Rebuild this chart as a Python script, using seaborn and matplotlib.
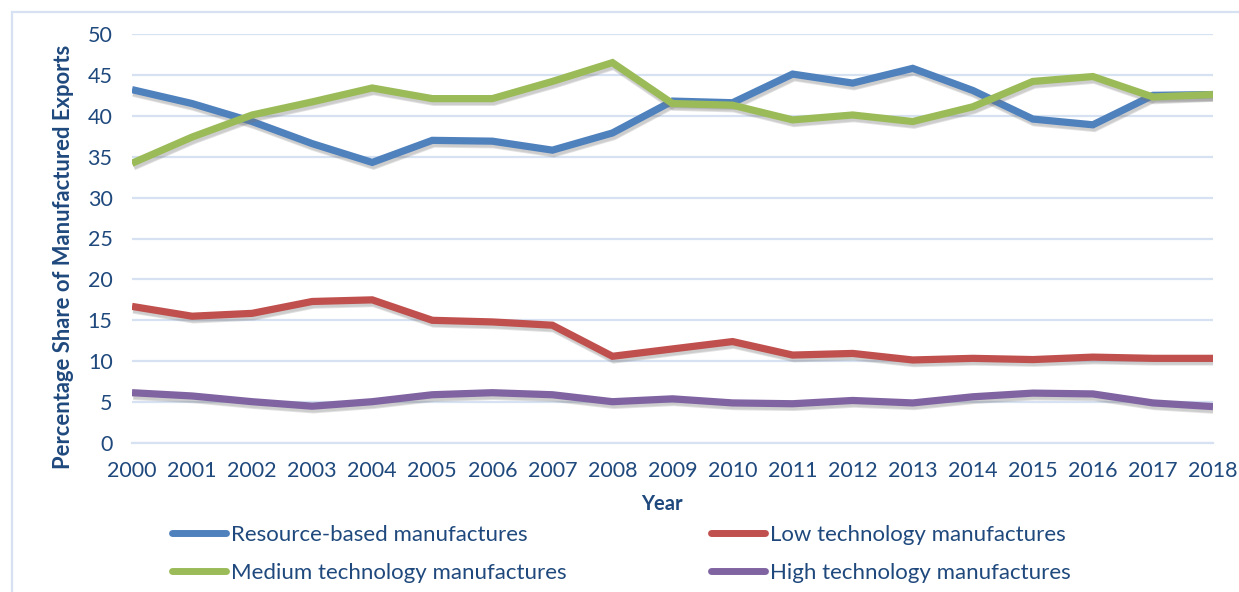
import matplotlib
matplotlib.use("Agg")
import matplotlib.pyplot as plt
import matplotlib.patheffects as pe
from matplotlib.lines import Line2D
from matplotlib.patches import Rectangle
import seaborn as sns
import pandas as pd

years = list(range(2000, 2019))
resource_based = [43.2, 41.5, 39.3, 36.6, 34.3, 37.0, 36.9, 35.8, 37.9, 41.8,
                  41.6, 45.1, 44.0, 45.8, 43.1, 39.6, 38.9, 42.5, 42.6]
low_tech = [16.7, 15.5, 15.85, 17.3, 17.5, 15.0, 14.8, 14.4, 10.6, 11.5,
            12.4, 10.75, 10.95, 10.15, 10.35, 10.2, 10.5, 10.35, 10.35]
medium_tech = [34.2, 37.4, 40.1, 41.7, 43.4, 42.1, 42.1, 44.2, 46.5, 41.5,
               41.3, 39.5, 40.1, 39.3, 41.1, 44.2, 44.8, 42.3, 42.6]
high_tech = [6.15, 5.75, 5.05, 4.5, 5.05, 5.9, 6.15, 5.9, 5.05, 5.4,
             4.9, 4.8, 5.2, 4.9, 5.65, 6.1, 6.0, 4.9, 4.45]

series_names = ["Resource-based manufactures", "Low technology manufactures",
                "Medium technology manufactures", "High technology manufactures"]
series_values = [resource_based, low_tech, medium_tech, high_tech]
series_colors = ["#4F81BD", "#C0504D", "#9BBB59", "#8064A2"]

df = pd.concat(
    [pd.DataFrame({"Year": years, "Share": vals, "Category": name})
     for name, vals in zip(series_names, series_values)],
    ignore_index=True,
)

sns.set_theme(style="white")
plt.rcParams["font.family"] = ["Lato", "DejaVu Sans"]

text_color = "#1F497D"
grid_color = "#D6E1F1"

W, H = 1239, 592
fig = plt.figure(figsize=(W / 100, H / 100), dpi=100)
ax = fig.add_axes([132 / W, 1 - 443 / H, (1213 - 132) / W, (443 - 34) / H])

palette = dict(zip(series_names, series_colors))
sns.lineplot(data=df, x="Year", y="Share", hue="Category", palette=palette,
             linewidth=5.2, ax=ax, legend=False, zorder=3)

# soft drop shadow under each series
shadow = [pe.SimpleLineShadow(offset=(1.0, -2.0), shadow_color="#777777", alpha=0.22,
                              linewidth=6.5),
          pe.SimpleLineShadow(offset=(1.0, -2.0), shadow_color="#777777", alpha=0.18),
          pe.Normal()]
for line in ax.get_lines():
    line.set_path_effects(shadow)
    line.set_solid_capstyle("butt")
    line.set_solid_joinstyle("miter")

ax.set_xlim(2000, 2018)
ax.set_ylim(0, 50)
ax.set_xticks(years)
ax.set_xticklabels([str(y) for y in years])
ax.set_yticks(range(0, 51, 5))

ax.grid(axis="y", color=grid_color, linewidth=1.6)
ax.grid(axis="x", visible=False)
ax.set_axisbelow(True)
for side in ["top", "right", "left"]:
    ax.spines[side].set_visible(False)
ax.spines["bottom"].set_color(grid_color)
ax.spines["bottom"].set_linewidth(1.6)

ax.tick_params(axis="x", which="major", direction="out", length=7, width=1.6,
               color=grid_color, labelsize=15.5, labelcolor=text_color, pad=6)
ax.tick_params(axis="y", which="major", length=0, labelsize=15.5,
               labelcolor=text_color, pad=14)

ax.set_xlabel("")
ax.set_ylabel("")
fig.text(662 / W, 1 - 504 / H, "Year", ha="center", va="center",
         fontsize=14.5, fontweight="bold", color=text_color)
fig.text(63 / W, 1 - 257 / H, "Percentage Share of Manufactured Exports",
         rotation=90, ha="center", va="center", fontsize=15.8,
         fontweight="bold", color=text_color)

# chart frame
fig.patches.append(Rectangle((12 / W, -0.1), 1.2, 1 - 12 / H + 0.1,
                             transform=fig.transFigure, fill=False,
                             edgecolor=grid_color, linewidth=1.6))

order = [0, 2, 1, 3]
handles = [Line2D([0], [0], color=series_colors[i], linewidth=5,
                  solid_capstyle="round") for i in order]
labels = [series_names[i] for i in order]
leg = fig.legend(handles, labels, ncol=2, loc="center left",
                 bbox_to_anchor=(172 / W, 1 - 554 / H), frameon=False,
                 fontsize=16, handlelength=2.43, handletextpad=0.22,
                 columnspacing=6.5, labelspacing=0.8, borderpad=0,
                 borderaxespad=0)
for t in leg.get_texts():
    t.set_color(text_color)

fig.savefig("out.png", dpi=100)
